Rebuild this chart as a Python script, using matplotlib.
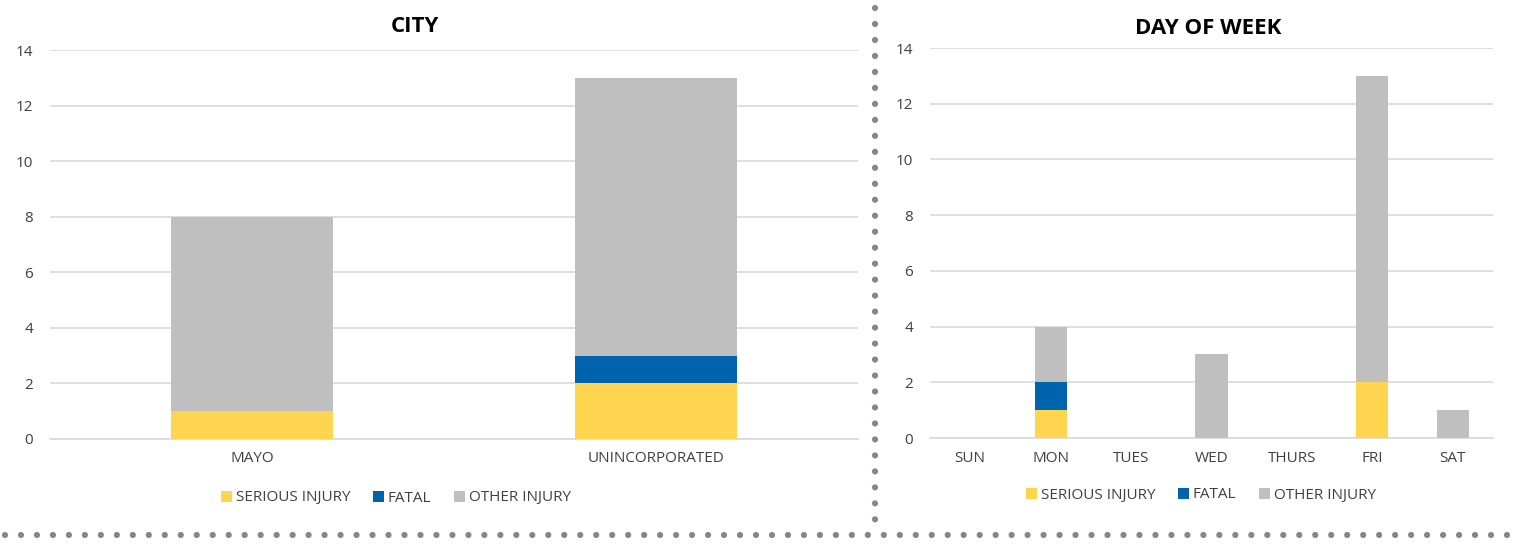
import matplotlib
matplotlib.use("Agg")
import matplotlib.pyplot as plt
from matplotlib.lines import Line2D
from matplotlib.patches import Patch
import numpy as np

plt.rcParams['font.family'] = ['Open Sans', 'DejaVu Sans']

series = ["SERIOUS INJURY", "FATAL", "OTHER INJURY"]
colors = ["#FFD44F", "#0063AE", "#BFBFBF"]

city_cats = ["MAYO", "UNINCORPORATED"]
city_serious = [1, 2]
city_fatal = [0, 1]
city_other = [7, 10]

day_cats = ["SUN", "MON", "TUES", "WED", "THURS", "FRI", "SAT"]
day_serious = [0, 1, 0, 0, 0, 2, 0]
day_fatal = [0, 1, 0, 0, 0, 0, 0]
day_other = [0, 2, 0, 3, 0, 11, 1]

W, H = 1517, 550
fig = plt.figure(figsize=(W / 100, H / 100), dpi=100)

FS = 11

def px_axes(x0, x1, ytop, ybot):
    return fig.add_axes([x0 / W, 1 - ybot / H, (x1 - x0) / W, (ybot - ytop) / H])

def draw(ax, cats, vals):
    x = np.arange(len(cats))
    bottom = np.zeros(len(cats))
    for v, c in zip(vals, colors):
        v = np.array(v, dtype=float)
        ax.bar(x, v, bottom=bottom, width=0.4, color=c, zorder=3)
        bottom += v
    ax.set_xlim(-0.5, len(cats) - 0.5)
    ax.set_ylim(0, 14)
    ax.set_yticks(range(0, 15, 2))
    ax.set_xticks(x)
    ax.set_xticklabels(cats)
    ax.grid(axis='y', color='#D9D9D9', linewidth=1.2, zorder=0)
    for s in ['top', 'right', 'left']:
        ax.spines[s].set_visible(False)
    ax.spines['bottom'].set_color('#D9D9D9')
    ax.spines['bottom'].set_linewidth(1.2)
    ax.tick_params(axis='both', length=0, labelsize=FS, colors='#404040')
    ax.tick_params(axis='y', pad=12)
    ax.tick_params(axis='x', pad=9)

ax1 = px_axes(50, 858, 50, 439)
draw(ax1, city_cats, [city_serious, city_fatal, city_other])
ax2 = px_axes(930, 1493, 48, 438)
draw(ax2, day_cats, [day_serious, day_fatal, day_other])

fig.text(415 / W, 1 - 27 / H, "CITY", ha='center', va='center', fontsize=16, fontweight='bold', color='#000000')
fig.text(1208 / W, 1 - 28 / H, "DAY OF WEEK", ha='center', va='center', fontsize=16, fontweight='bold', color='#000000')

handles = [Patch(facecolor=c, edgecolor='none') for c in colors]
for cx, cy in [(396, 498), (1201, 495)]:
    fig.legend(handles, series, loc='center', bbox_to_anchor=(cx / W, 1 - cy / H), ncol=3,
               frameon=False, fontsize=FS, handlelength=0.7, handleheight=0.7,
               handletextpad=0.25, columnspacing=1.5, labelcolor='#404040')

lw = 4.5
gap = 11.5 / lw
hl = Line2D([5 / W, 1512 / W], [1 - 535 / H, 1 - 535 / H], transform=fig.transFigure,
            color='#868686', linewidth=lw, dash_capstyle='round', dashes=(0.001, gap))
vl = Line2D([875 / W, 875 / W], [1 - 8 / H, 1 - 522 / H], transform=fig.transFigure,
            color='#868686', linewidth=lw, dash_capstyle='round', dashes=(0.001, gap))
fig.lines.extend([hl, vl])

fig.savefig("out.png", dpi=100)
